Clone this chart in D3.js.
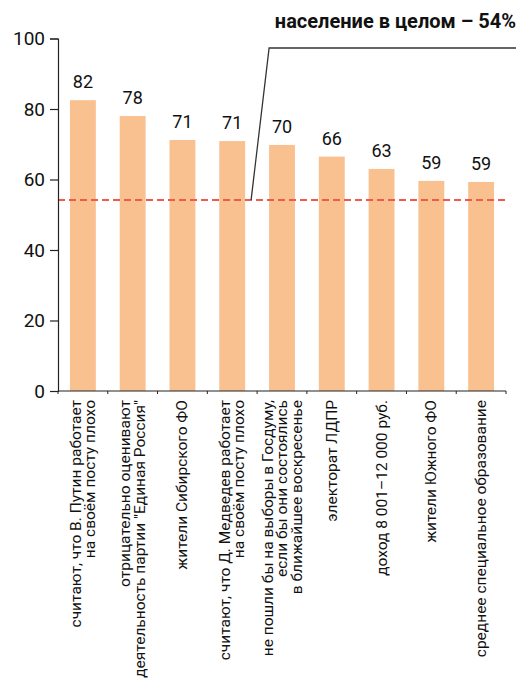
<!DOCTYPE html>
<html>
<head>
<meta charset="utf-8">
<script src="https://cdn.jsdelivr.net/npm/d3@7"></script>
<style>
  body { margin: 0; background: #fff; }
  svg text { font-family: Roboto, "Liberation Sans", sans-serif; fill: #111; }
</style>
</head>
<body>
<svg id="chart" width="521" height="678"></svg>
<script>
// categories, each split into its printed lines
var categories = [
  ["считают, что В. Путин работает", "на своём посту плохо"],
  ["отрицательно оценивают", "деятельность партии \"Единая Россия\""],
  ["жители Сибирского ФО"],
  ["считают, что Д. Медведев работает", "на своём посту плохо"],
  ["не пошли бы на выборы в Госдуму,", "если бы они состоялись", "в ближайшее воскресенье"],
  ["электорат ЛДПР"],
  ["доход 8 001–12 000 руб."],
  ["жители Южного ФО"],
  ["среднее специальное образование"]
];
var values = [82.5, 78, 71.2, 70.9, 69.8, 66.5, 63, 59.6, 59.3];
var valueLabels = ["82", "78", "71", "71", "70", "66", "63", "59", "59"];
var yTicks = [0, 20, 40, 60, 80, 100];
var average = 54.2;
var averageLabel = "население в целом – 54%";

var svg = d3.select("#chart");
var plotLeft = 58, plotRight = 506, plotTop = 38.5, plotBottom = 391;

var x = d3.scaleBand()
  .domain(d3.range(values.length))
  .range([plotLeft, plotRight])
  .paddingInner(0.48)
  .paddingOuter(0.24);

var y = d3.scaleLinear().domain([0, 100]).range([plotBottom, plotTop]);

// bars
svg.append("g").selectAll("rect")
  .data(values)
  .enter().append("rect")
  .attr("x", (d, i) => x(i))
  .attr("width", x.bandwidth())
  .attr("y", d => y(d))
  .attr("height", d => y(0) - y(d))
  .attr("fill", "#f9c090");

// value labels
svg.append("g").selectAll("text")
  .data(values)
  .enter().append("text")
  .attr("x", (d, i) => x(i) + x.bandwidth() / 2)
  .attr("y", d => y(d) - 12)
  .attr("text-anchor", "middle")
  .style("font-size", "18px")
  .text((d, i) => valueLabels[i]);

// average line
svg.append("line")
  .attr("x1", plotLeft).attr("x2", plotRight)
  .attr("y1", y(average)).attr("y2", y(average))
  .attr("stroke", "#f05a4a")
  .attr("stroke-width", 2)
  .attr("stroke-dasharray", "7,4");

// leader line to the annotation
var step = x.step();
var lx = plotLeft + step * 4 - 6;
svg.append("polyline")
  .attr("points", [[lx, y(average)], [lx + 18, y(97.3)], [516, y(97.3)]].map(p => p.join(",")).join(" "))
  .attr("fill", "none")
  .attr("stroke", "#333")
  .attr("stroke-width", 1.3);

svg.append("text")
  .attr("x", 516)
  .attr("y", 28)
  .attr("text-anchor", "end")
  .style("font-size", "20px")
  .style("font-weight", "bold")
  .text(averageLabel);

// y axis
var yAxis = svg.append("g")
  .attr("transform", "translate(" + plotLeft + ",0)")
  .call(d3.axisLeft(y).tickValues(yTicks).tickSize(8).tickPadding(5));
yAxis.selectAll("text")
  .style("font-size", "19px")
  .style("font-family", "Roboto, 'Liberation Sans', sans-serif")
  .attr("fill", "#111");
yAxis.selectAll("path, line").attr("stroke", "#222").attr("stroke-width", 1.2);

// x axis line with small ticks at band boundaries
var xg = svg.append("g");
xg.append("line")
  .attr("x1", plotLeft).attr("x2", plotRight)
  .attr("y1", plotBottom).attr("y2", plotBottom)
  .attr("stroke", "#222").attr("stroke-width", 1.2);
xg.selectAll("line.tick")
  .data(d3.range(values.length + 1))
  .enter().append("line")
  .attr("class", "tick")
  .attr("x1", i => plotLeft + i * step).attr("x2", i => plotLeft + i * step)
  .attr("y1", plotBottom).attr("y2", plotBottom + 3)
  .attr("stroke", "#222");

// rotated category labels
var lh = 14.5;
var cat = svg.append("g").selectAll("g")
  .data(categories)
  .enter().append("g")
  .attr("transform", (d, i) => "translate(" + (x(i) + x.bandwidth() / 2) + "," + (plotBottom + 9) + ") rotate(-90)");
cat.selectAll("text")
  .data(d => d.map((t, j) => ({t: t, j: j, n: d.length})))
  .enter().append("text")
  .attr("x", 0)
  .attr("y", d => (d.j - (d.n - 1) / 2) * lh + 5)
  .attr("text-anchor", "end")
  .style("font-size", "15.5px")
  .text(d => d.t);
</script>
</body>
</html>
